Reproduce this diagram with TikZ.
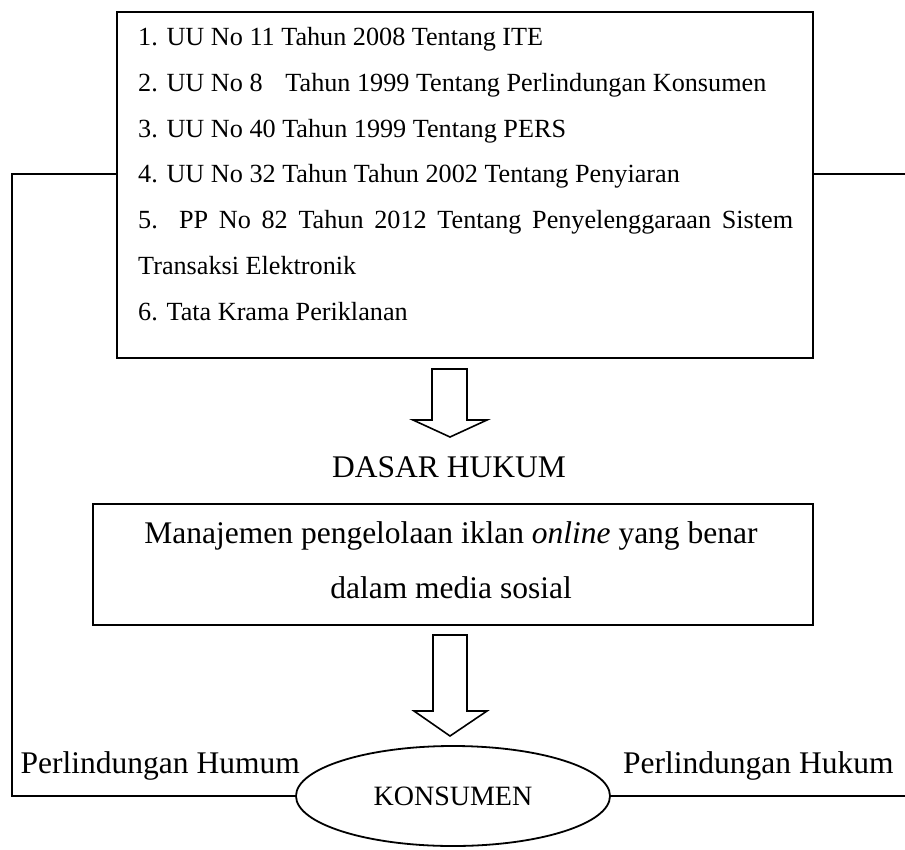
\documentclass[tikz,border=0pt]{standalone}
\usepackage{fontspec}
\setmainfont{Liberation Serif}
\usetikzlibrary{shapes.geometric}
\begin{document}
\begin{tikzpicture}[x=1pt,y=-1pt,
  box/.style={draw, line width=1.8pt, inner sep=0pt},
  listline/.style={anchor=base west, inner sep=0pt, font=\fontsize{26.2}{30}\selectfont},
  bigtext/.style={inner sep=0pt, font=\fontsize{31.5}{36}\selectfont},
  conn/.style={line width=1.8pt},
  blockarrow/.style={draw, line width=1.6pt, line join=miter, fill=white}]
\useasboundingbox (0,0) rectangle (905,849);

% top box with legal bases
\node[box, minimum width=696pt, minimum height=346pt, anchor=north west] (laws) at (116,11) {};
\node[listline] (l1) at (138,45) {1. UU No 11 Tahun 2008 Tentang ITE};
\node[listline] (l2) at (138,91) {2. UU No 8\hspace{0.62em} Tahun 1999 Tentang Perlindungan Konsumen};
\node[listline] (l3) at (138,137) {3. UU No 40 Tahun 1999 Tentang PERS};
\node[listline] (l4) at (138,182) {4. UU No 32 Tahun Tahun 2002 Tentang Penyiaran};
\node[listline] (l5) at (138,228) {\makebox[655pt][s]{5. PP No 82 Tahun 2012 Tentang Penyelenggaraan Sistem}};
\node[listline] (l5b) at (138,274) {Transaksi Elektronik};
\node[listline] (l6) at (138,320) {6. Tata Krama Periklanan};

% arrow 1
\draw[blockarrow] (432,369) -- (467,369) -- (467,420) -- (487,420) -- (450,437) -- (413,420) -- (432,420) -- cycle;

\node[bigtext, anchor=base] (dasar) at (449,477) {DASAR HUKUM};

% middle box
\node[box, minimum width=720pt, minimum height=121pt, anchor=north west] (mgmt) at (92,503) {};
\node[bigtext, anchor=base] (m1) at (451,543) {Manajemen pengelolaan iklan \textit{online} yang benar};
\node[bigtext, anchor=base] (m2) at (451,598) {dalam media sosial};

% arrow 2
\draw[blockarrow] (433,635) -- (467,635) -- (467,711) -- (487,711) -- (450,736) -- (414,711) -- (433,711) -- cycle;

% consumer ellipse
\node[ellipse, draw, line width=1.8pt, minimum width=314pt, minimum height=100pt, inner sep=0pt,
      font=\fontsize{28}{32}\selectfont] (kons) at (453,796) {KONSUMEN};

% side labels
\node[bigtext, anchor=base west] (plh) at (20.5,773) {Perlindungan Humum};
\node[bigtext, anchor=base west] (plk) at (623,773) {Perlindungan Hukum};

% connectors
\coordinate (lt) at (12,174);
\coordinate (lb) at (12,796);
\coordinate (rt) at (905,174);
\coordinate (rb) at (905,796);
\draw[conn] (lt -| laws.west) -- (lt) -- (lb) -- (kons.west);
\draw[conn] (rt -| laws.east) -- (rt);
\draw[conn] (kons.east) -- (rb);
\end{tikzpicture}
\end{document}
